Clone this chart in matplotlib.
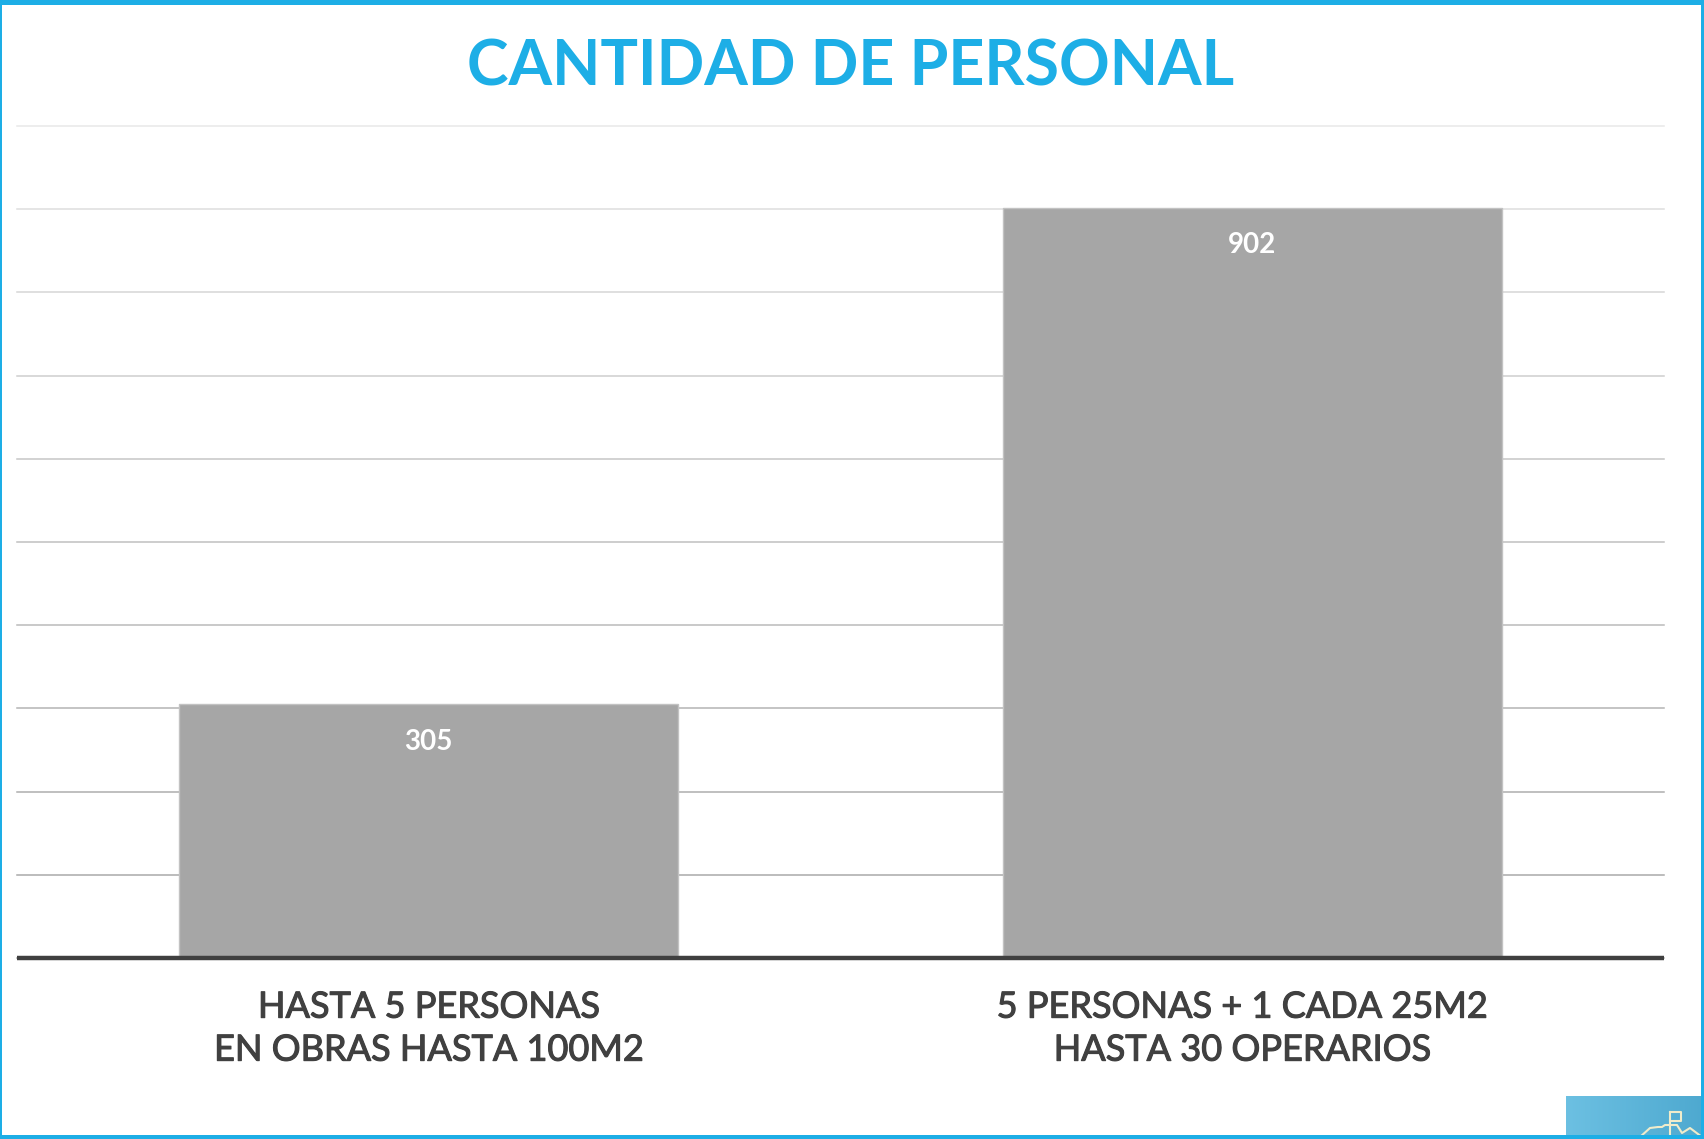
import matplotlib
matplotlib.use('Agg')
import matplotlib.pyplot as plt
import matplotlib.patheffects as pe
import numpy as np
from matplotlib.patches import Rectangle
from matplotlib.transforms import ScaledTranslation

categories = ['HASTA 5 PERSONAS\nEN OBRAS HASTA 100M2', '5 PERSONAS + 1 CADA 25M2\nHASTA 30 OPERARIOS']
personal = [305, 902]
y_ticks = [0, 100, 200, 300, 400, 500, 600, 700, 800, 900, 1000]
grid_colors = ['#a6a6a6', '#a9a9a9', '#aeaeae', '#b4b4b4', '#bababa', '#c0c0c0', '#c6c6c6', '#cecece', '#d6d6d6', '#dedede', '#e8e8e8']

W, H = 1704, 1139
BLUE = '#1daee6'
DARK = '#404040'

fig = plt.figure(figsize=(W / 100, H / 100), dpi=100, facecolor='white')
ax = fig.add_axes([17 / W, 1 - 958 / H, (1664 - 17) / W, (958 - 126) / H])

############### Bars And Grid ###############
ax.bar([0, 1], personal, width=0.606, color='#a6a6a6', edgecolor='#c2c2c2', linewidth=1.0, zorder=3)
ax.set_xlim(-0.5, 1.5)
ax.set_ylim(0, 1000)
ax.set_yticks(y_ticks)
ax.grid(axis='y', linewidth=1.1)
for line, c in zip(ax.get_ygridlines(), grid_colors):
    line.set_color(c)
    line.set_clip_on(False)
ax.set_axisbelow(True)
for s in ['top', 'left', 'right']:
    ax.spines[s].set_visible(False)
ax.spines['bottom'].set_color(DARK)
ax.spines['bottom'].set_linewidth(3.2)
ax.spines['bottom'].set_capstyle('butt')
ax.spines['bottom'].set_zorder(5)
ax.tick_params(axis='y', length=0, labelleft=False)
ax.tick_params(axis='x', length=0, pad=23.5)
ax.set_xticks([0, 1])
ax.set_xticklabels(categories, fontsize=26, color=DARK, family='Lato', linespacing=1.37)
# labels are heavier than Lato regular in the original
for lab in ax.get_xticklabels():
    lab.set_path_effects([pe.withStroke(linewidth=0.8, foreground=DARK)])
# second label sits a bit left of its bar in the original
lab = ax.get_xticklabels()[1]
lab.set_transform(lab.get_transform() + ScaledTranslation(-10 / 100, 0, fig.dpi_scale_trans))

for i, v in enumerate(personal):
    ax.annotate(str(v), (i, v), xytext=(0, -27), textcoords='offset points', ha='center', va='center',
                color='white', fontsize=20, family='Lato', fontweight='bold', zorder=6)

############### Title ###############
fig.text(851 / W, 1 - 67 / H, 'CANTIDAD DE PERSONAL', ha='center', va='center', color=BLUE,
         fontsize=45.2, family='Lato', fontweight='bold')

############### Frame ###############
tr = fig.transFigure
fig.patches.append(Rectangle((0, 1 - 5 / H), 1, 5 / H, transform=tr, color=BLUE, lw=0))
fig.patches.append(Rectangle((0, 0), 1, 4 / H, transform=tr, color=BLUE, lw=0))
fig.patches.append(Rectangle((0, 0), 2 / W, 1, transform=tr, color=BLUE, lw=0))
fig.patches.append(Rectangle((1 - 3 / W, 0), 3 / W, 1, transform=tr, color=BLUE, lw=0))

############### Logo Corner ###############
logo = fig.add_axes([1566 / W, 0, 138 / W, 43 / H])
grad = np.linspace(0, 1, 64).reshape(1, -1)
logo.imshow(grad, aspect='auto', extent=[1566, 1704, 1139, 1096], origin='upper',
            cmap=matplotlib.colors.LinearSegmentedColormap.from_list('logo', ['#6cc0e2', '#4ea9d0']))
logo.plot([1640, 1650, 1658, 1662, 1665, 1677, 1682, 1690, 1702], [1137, 1128, 1127, 1127, 1125, 1125, 1133, 1128, 1137],
          color='#f0eccb', lw=1.5)
logo.plot([1670, 1670], [1112, 1139], color='#f0eccb', lw=1.5)
logo.plot([1670, 1681, 1681, 1670], [1112, 1112, 1121, 1121], color='#f0eccb', lw=1.5)
logo.set_xlim(1566, 1704)
logo.set_ylim(1139, 1096)
logo.axis('off')

fig.savefig('out.png', dpi=100)
